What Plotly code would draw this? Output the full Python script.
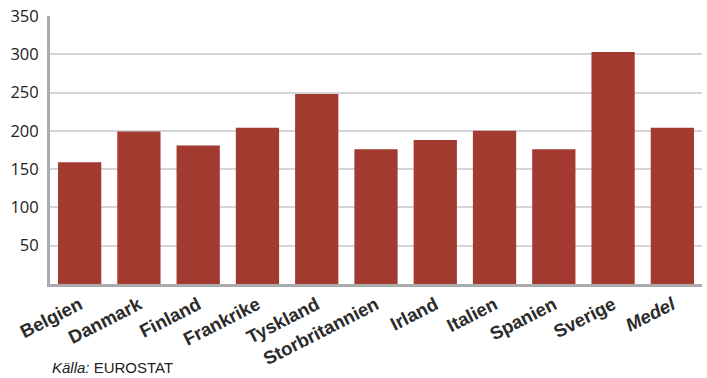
import plotly.graph_objects as go

categories = ["Belgien", "Danmark", "Finland", "Frankrike", "Tyskland", "Storbritannien",
              "Irland", "Italien", "Spanien", "Sverige", "Medel"]
tick_labels = ["Belgien", "Danmark", "Finland", "Frankrike", "Tyskland", "Storbritannien",
               "Irland", "Italien", "Spanien", "Sverige", "<i>Medel</i>"]
values = [159, 199, 181, 204, 248, 176, 188, 200, 176, 303, 204]
y_ticks = [50, 100, 150, 200, 250, 300, 350]

fig = go.Figure(go.Bar(x=categories, y=values, marker=dict(color="#a33a2f", line=dict(width=0))))

fig.update_layout(
    width=707, height=378,
    margin=dict(l=50, r=5, t=16, b=94),
    plot_bgcolor="white", paper_bgcolor="white",
    bargap=0.27,
    showlegend=False,
    xaxis=dict(
        tickmode="array", tickvals=categories, ticktext=tick_labels,
        tickangle=-27,
        tickfont=dict(family="Liberation Sans, Arial", size=18.5, color="#2b2b2b", weight="bold"),
        showline=True, linecolor="#a9abad", linewidth=3,
        showgrid=False, ticks="",
    ),
    yaxis=dict(
        range=[0, 350], tickvals=y_ticks, ticktext=[str(v) for v in y_ticks],
        tickfont=dict(family="Open Sans, DejaVu Sans", size=16.5, color="#222222"),
        showgrid=True, gridcolor="#d3d5d8", gridwidth=2,
        showline=True, linecolor="#a9abad", linewidth=3,
        zeroline=False, ticks="", ticklabelstandoff=5,
    ),
    annotations=[dict(
        text="<i>Källa:</i> EUROSTAT", xref="paper", yref="paper",
        x=0, y=-0.35, xanchor="left", yanchor="bottom",
        showarrow=False,
        font=dict(family="Liberation Sans, Arial", size=15, color="#222222"),
    )],
)

fig.write_html("out.html")
